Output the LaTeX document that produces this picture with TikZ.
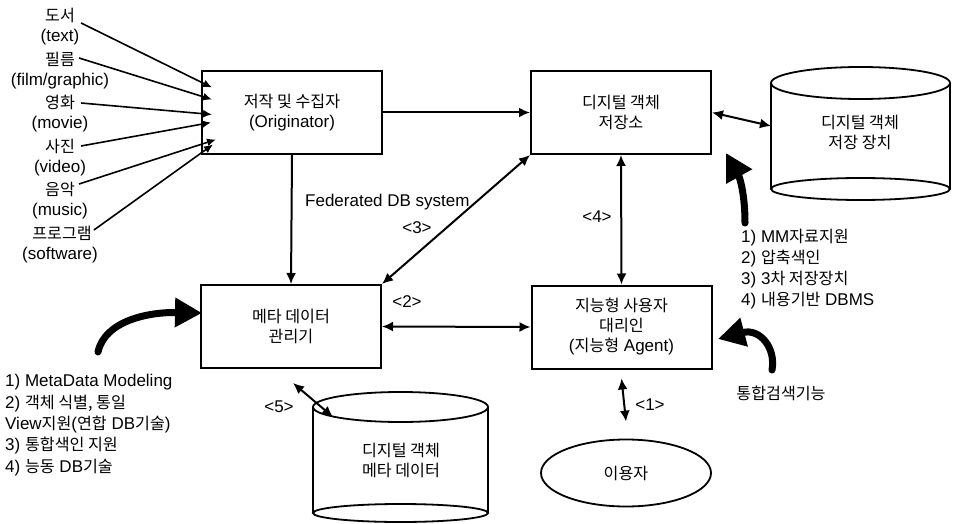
\documentclass[tikz,border=0pt]{standalone}
\usepackage{fontspec}
\setmainfont{Liberation Sans}
\newfontfamily\kr{Noto Sans CJK KR}[Scale=0.95]
\newcommand{\K}[1]{{\kr #1}}
\usetikzlibrary{arrows.meta,calc,shapes.geometric}
\begin{document}
\begin{tikzpicture}[x=1pt,y=-1pt,font=\fontsize{17}{20}\selectfont,
  box/.style={draw,line width=2pt,minimum width=180pt,minimum height=83pt,align=center,inner sep=0pt},
  conn/.style={line width=2pt,-{Latex[length=11pt,width=10pt]}},
  dconn/.style={line width=2pt,{Latex[length=11pt,width=10pt]}-{Latex[length=11pt,width=10pt]}},
  src/.style={line width=1.6pt,-{Latex[length=9pt,width=8pt]}},
  big/.style={line width=7pt,line cap=round,-{Triangle[length=27pt,width=28pt]}},
  cyl/.style={line width=1.8pt},
  lbl/.style={inner sep=0pt}]
\useasboundingbox (0,0) rectangle (955,524);

% boxes
\node[box] (orig) at (292,112.5) {\K{저작 및 수집자}\\(Originator)};
\node[box] (repo) at (621,112.5) {\K{디지털 객체}\\\K{저장소}};
\node[box] (meta) at (291,326.5) {\K{메타 데이터}\\\K{관리기}};
\node[box] (agent) at (621.5,327) {\K{지능형 사용자}\\\K{대리인}\\(\K{지능형} Agent)};
\node[draw,ellipse,line width=1.8pt,minimum width=170pt,minimum height=67pt,inner sep=0pt] (user) at (626,473) {\K{이용자}};

% storage cylinder
\draw[cyl] (860.5,83) ellipse [x radius=89.5,y radius=16];
\draw[cyl] (771,83) -- (771,189) (950,83) -- (950,189);
\draw[cyl] (860.5,189) ellipse [x radius=89.5,y radius=11];
\node[align=center,lbl] (stor) at (860,132) {\K{디지털 객체}\\\K{저장 장치}};
\coordinate (storL) at (771,126);

% metadata cylinder
\draw[cyl] (400.5,407) ellipse [x radius=87.5,y radius=15];
\draw[cyl] (313,407) -- (313,513) (488,407) -- (488,513);
\draw[cyl] (400.5,513) ellipse [x radius=87.5,y radius=9];
\node[align=center,lbl] (mdb) at (401,460) {\K{디지털 객체}\\\K{메타 데이터}};
\coordinate (mdbT) at (333,417);

% source labels
\node[lbl] (s1) at (60,15) {\K{도서}};
\node[lbl] (e1) at (60,37) {(text)};
\node[lbl] (s2) at (60,59) {\K{필름}};
\node[lbl] (e2) at (60,81) {(film/graphic)};
\node[lbl] (s3) at (60,102) {\K{영화}};
\node[lbl] (e3) at (60,124) {(movie)};
\node[lbl] (s4) at (60,146) {\K{사진}};
\node[lbl] (e4) at (60,168) {(video)};
\node[lbl] (s5) at (60,189) {\K{음악}};
\node[lbl] (e5) at (60,211) {(music)};
\node[lbl] (s6) at (62,233) {\K{프로그램}};
\node[lbl] (e6) at (60,255) {(software)};

\draw[src] ([shift={(6,8)}]s1.east) -- ([shift={(11,-25)}]orig.west);
\draw[src] ([shift={(4,-1)}]s2.east) -- ([shift={(11,-13)}]orig.west);
\draw[src] ([shift={(6,1)}]s3.east) -- ([shift={(11,2)}]orig.west);
\draw[src] ([shift={(6,0)}]s4.east) -- ([shift={(10,10)}]orig.west);
\draw[src] ([shift={(4,-5)}]s5.east) -- ([shift={(15,27)}]orig.west);
\draw[src] ([shift={(2,-3)}]s6.east) -- ([shift={(12,32)}]orig.west);

% connectors
\draw[conn] (orig.east) -- (repo.west);
\draw[conn] (orig.south) -- (meta.north);
\draw[dconn] (repo.south west) -- (meta.north east);
\draw[dconn] (repo.south) -- (agent.north);
\draw[dconn] (meta.east) -- (agent.west);
\draw[dconn] (repo.east) -- (storL);
\draw[dconn] ([shift={(0,9)}]agent.south) -- ([shift={(0,-17)}]user.north);
\draw[dconn] ([shift={(2,14)}]meta.south) -- (mdbT);

% connector labels
\node[anchor=west,lbl] (fed) at (305,202) {Federated DB system};
\node[lbl] (n3) at (417,228) {<3>};
\node[lbl] (n4) at (597,217) {<4>};
\node[lbl] (n2) at (407,302) {<2>};
\node[lbl] (n5) at (279,407) {<5>};
\node[lbl] (n1) at (650,405) {<1>};

% lists
\node[anchor=west,align=left,lbl,font=\fontsize{17}{21}\selectfont] (rlist) at (741,269)
  {1) MM\K{자료지원}\\2) \K{압축색인}\\3) 3\K{차 저장장치}\\4) \K{내용기반} DBMS};
\node[anchor=west,align=left,lbl,font=\fontsize{17}{21.3}\selectfont] (llist) at (5,425)
  {1) MetaData Modeling\\2) \K{객체 식별, 통일}\\View\K{지원}(\K{연합} DB\K{기술})\\3) \K{통합색인 지원}\\4) \K{능동} DB\K{기술}};
\node[lbl] (srch) at (781,393) {\K{통합검색기능}};

% thick curved arrows
\draw[big] (745,223) .. controls (745,195) and (740,178) .. (726,153);
\draw[big] (98,352) .. controls (105,320) and (150,312) .. (202,313);
\draw[big] (772,370) .. controls (776,348) and (760,328) .. (718,339);
\end{tikzpicture}
\end{document}
